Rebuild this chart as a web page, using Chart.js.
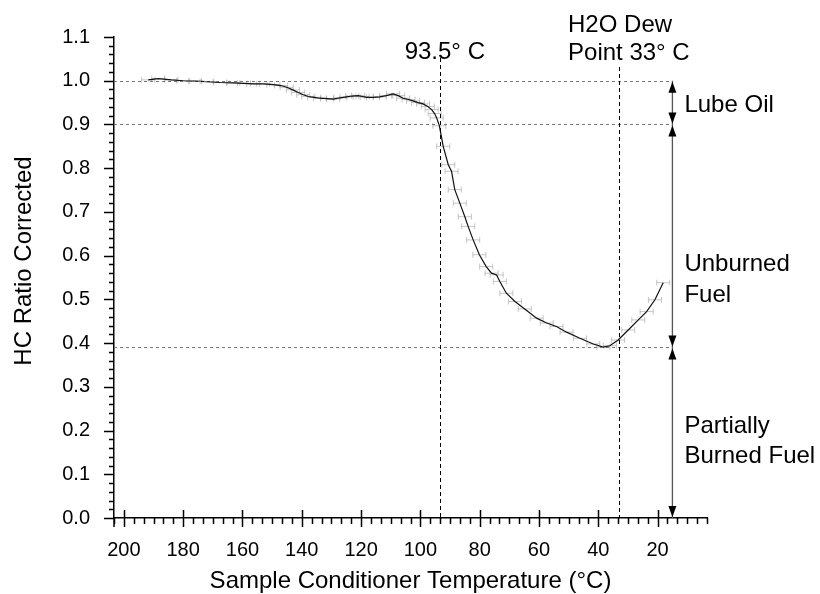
<!DOCTYPE html>
<html>
<head>
<meta charset="utf-8">
<script src="https://cdn.jsdelivr.net/npm/chart.js@4.4.1/dist/chart.umd.min.js"></script>
<style>
  html, body { margin: 0; padding: 0; background: #fff; }
  #wrap { width: 820px; height: 594px; }
</style>
</head>
<body>
<div id="wrap"><canvas id="hcChart" width="820" height="594"></canvas></div>
<script>
// Sample conditioner temperature (°C) and corrected HC ratio
const temps = [191.8, 188.4, 184, 180, 176, 172.1, 167.5, 163.1, 159.5, 156.4, 153, 149.6, 147, 145.1,
  143, 141.2, 139.5, 137.8, 135.8, 133.9, 131.5, 129.4, 127, 124.9, 123, 121, 119.5, 118.1, 116, 113.7,
  111.5, 109.2, 107.5, 105.8, 104, 102.5, 100.8, 99.1, 97.5, 96.2, 95.2, 94.5, 93.6, 92.3, 90.6, 89.5,
  88.4, 86.7, 85.0, 83.9, 82.2, 80.1, 77.8, 76.0, 74.3, 73.2, 71.0, 68.1, 64.8, 60.8, 57.4, 54.1, 50.7,
  46.2, 41.7, 38.3, 36.1, 33.3, 29.9, 26.5, 23.7, 20.9, 18.1];
const hcRatio = [1.002, 1.005, 1.002, 1.000, 0.999, 0.998, 0.996, 0.995, 0.994, 0.993, 0.993, 0.991, 0.989, 0.985,
  0.979, 0.973, 0.968, 0.964, 0.962, 0.960, 0.959, 0.958, 0.961, 0.963, 0.965, 0.966, 0.964, 0.962, 0.962, 0.963,
  0.966, 0.970, 0.966, 0.960, 0.957, 0.954, 0.950, 0.947, 0.941, 0.934, 0.925, 0.915, 0.897, 0.850, 0.808, 0.793,
  0.751, 0.720, 0.689, 0.667, 0.636, 0.602, 0.575, 0.560, 0.556, 0.541, 0.514, 0.495, 0.478, 0.457, 0.446, 0.438, 0.425,
  0.411, 0.398, 0.391, 0.394, 0.407, 0.430, 0.453, 0.472, 0.499, 0.538];
const tempError = 2.2; // ± °C on every reading

// Axis ranges and ticks
const xMin = 3.333, xMax = 203.333;
const xTickValues = [200, 180, 160, 140, 120, 100, 80, 60, 40, 20];
const xMinorPerMajor = 6;
const yMin = 0, yMax = 1.1;
const yTickValues = [0, 0.1, 0.2, 0.3, 0.4, 0.5, 0.6, 0.7, 0.8, 0.9, 1.0, 1.1];
const yMinorPerMajor = 5;

// Reference temperatures
const markerTemps = [93.5, 33];
const markerLabels = [['93.5° C'], ['H2O Dew', 'Point 33° C']];

// Composition bands on the right-hand scale
const bandEdges = [1.0, 0.9, 0.39, 0.0];
const bandLabels = [['Lube Oil'], ['Unburned', 'Fuel'], ['Partially', 'Burned Fuel']];
const bandArrowTemp = 15;

const FONT = "'Liberation Sans', Arial, sans-serif";

const points = temps.map((t, i) => ({ x: t, y: hcRatio[i] }));

// horizontal error bars under the curve
const errorBars = {
  id: 'errorBars',
  beforeDatasetsDraw(chart) {
    const { ctx, scales: { x, y } } = chart;
    ctx.save();
    ctx.strokeStyle = 'rgba(160,160,160,0.6)';
    ctx.lineWidth = 1;
    points.forEach(p => {
      const x1 = x.getPixelForValue(p.x + tempError);
      const x2 = x.getPixelForValue(p.x - tempError);
      const py = y.getPixelForValue(p.y);
      ctx.beginPath();
      ctx.moveTo(x1, py); ctx.lineTo(x2, py);
      ctx.moveTo(x1, py - 3); ctx.lineTo(x1, py + 3);
      ctx.moveTo(x2, py - 3); ctx.lineTo(x2, py + 3);
      ctx.stroke();
    });
    ctx.restore();
  }
};

// major / minor tick marks
const tickMarks = {
  id: 'tickMarks',
  afterDraw(chart) {
    const { ctx, scales: { x, y }, chartArea: a } = chart;
    const xStep = (xTickValues[0] - xTickValues[1]) / xMinorPerMajor;
    const yStep = (yTickValues[1] - yTickValues[0]) / yMinorPerMajor;
    ctx.save();
    ctx.strokeStyle = '#000';
    ctx.lineWidth = 1.5;
    ctx.beginPath();
    const nx = Math.round((xMax - xMin) / xStep);
    for (let k = 0; k <= nx; k++) {
      const v = xMin + k * xStep;
      const px = Math.round(x.getPixelForValue(v)) + 0.5;
      const major = xTickValues.some(t => Math.abs(t - v) < 0.01);
      ctx.moveTo(px, major ? a.bottom - 8 : a.bottom);
      ctx.lineTo(px, major ? a.bottom + 9 : a.bottom + 6);
    }
    const ny = Math.round((yMax - yMin) / yStep);
    for (let k = 0; k <= ny; k++) {
      const v = yMin + k * yStep;
      const py = Math.round(y.getPixelForValue(v)) + 0.5;
      const major = k % yMinorPerMajor === 0;
      ctx.moveTo(a.left, py);
      ctx.lineTo(major ? a.left - 10 : a.left - 5, py);
    }
    ctx.moveTo(a.left, a.bottom);
    ctx.lineTo(a.left, a.bottom + 9);
    ctx.stroke();
    ctx.restore();
  }
};

function arrowHead(ctx, px, py, dir) {
  ctx.beginPath();
  ctx.moveTo(px, py);
  ctx.lineTo(px - 4, py - dir * 11);
  ctx.lineTo(px + 4, py - dir * 11);
  ctx.closePath();
  ctx.fill();
}

// reference lines, band arrows and text
const annotations = {
  id: 'annotations',
  afterDraw(chart) {
    const { ctx, scales: { x, y }, chartArea: a } = chart;
    const ax = x.getPixelForValue(bandArrowTemp);
    ctx.save();

    // horizontal band edges
    ctx.strokeStyle = '#777';
    ctx.lineWidth = 1.2;
    ctx.setLineDash([3, 3]);
    bandEdges.slice(0, 3).forEach(v => {
      const py = Math.round(y.getPixelForValue(v)) + 0.5;
      ctx.beginPath();
      ctx.moveTo(a.left, py);
      ctx.lineTo(ax, py);
      ctx.stroke();
    });

    // vertical reference temperatures
    ctx.strokeStyle = '#000';
    ctx.lineWidth = 1;
    ctx.setLineDash([4, 3]);
    const lineTops = [58, 67];
    markerTemps.forEach((t, i) => {
      const px = Math.round(x.getPixelForValue(t)) + 0.5;
      ctx.beginPath();
      ctx.moveTo(px, lineTops[i]);
      ctx.lineTo(px, a.bottom);
      ctx.stroke();
    });
    ctx.setLineDash([]);

    // band arrows
    ctx.strokeStyle = '#555';
    ctx.lineWidth = 1.3;
    ctx.beginPath();
    ctx.moveTo(ax, y.getPixelForValue(bandEdges[0]));
    ctx.lineTo(ax, y.getPixelForValue(bandEdges[3]));
    ctx.stroke();
    ctx.fillStyle = '#000';
    for (let i = 0; i < bandEdges.length - 1; i++) {
      const top = y.getPixelForValue(bandEdges[i]);
      const bot = y.getPixelForValue(bandEdges[i + 1]);
      arrowHead(ctx, ax, top + 1, -1);
      arrowHead(ctx, ax, bot - 1, 1);
    }

    // text
    ctx.fillStyle = '#000';
    ctx.font = '24px ' + FONT;
    ctx.textBaseline = 'alphabetic';
    ctx.textAlign = 'left';
    const mk0 = x.getPixelForValue(markerTemps[0]);
    const mk1 = x.getPixelForValue(markerTemps[1]);
    ctx.fillText(markerLabels[0][0], mk0 - 35, 59);
    ctx.fillText(markerLabels[1][0], mk1 - 51, 32);
    ctx.fillText(markerLabels[1][1], mk1 - 51, 60);

    const bandBaselines = [[112], [271, 302], [433, 463]];
    bandLabels.forEach((lines, i) => {
      lines.forEach((s, j) => ctx.fillText(s, ax + 12, bandBaselines[i][j]));
    });

    // axis titles
    ctx.textAlign = 'center';
    ctx.fillText('Sample Conditioner Temperature (°C)', (a.left + a.right) / 2, 588);
    ctx.translate(31, 261);
    ctx.rotate(-Math.PI / 2);
    ctx.fillText('HC Ratio Corrected', 0, 0);
    ctx.restore();
  }
};

new Chart(document.getElementById('hcChart'), {
  type: 'line',
  data: {
    datasets: [{
      data: points,
      borderColor: '#111',
      borderWidth: 1.2,
      pointRadius: 0,
      tension: 0,
      fill: false
    }]
  },
  options: {
    responsive: false,
    animation: false,
    layout: { padding: { left: 0, right: 113, top: 37, bottom: 0 } },
    plugins: { legend: { display: false }, tooltip: { enabled: false } },
    scales: {
      x: {
        type: 'linear',
        reverse: true,
        min: xMin,
        max: xMax,
        afterFit(scale) { scale.height = 76; },
        afterBuildTicks(scale) { scale.ticks = xTickValues.map(v => ({ value: v })); },
        grid: { display: false },
        border: { color: '#000', width: 1.5 },
        ticks: {
          padding: 12,
          maxRotation: 0,
          autoSkip: false,
          color: '#000',
          font: { family: FONT, size: 20 },
          callback: v => String(v)
        }
      },
      y: {
        min: yMin,
        max: yMax,
        afterFit(scale) { scale.width = 114; },
        afterBuildTicks(scale) { scale.ticks = yTickValues.map(v => ({ value: v })); },
        grid: { display: false },
        border: { color: '#000', width: 1.5 },
        ticks: {
          padding: 16,
          autoSkip: false,
          color: '#000',
          font: { family: FONT, size: 20 },
          callback: v => v.toFixed(1)
        }
      }
    }
  },
  plugins: [errorBars, tickMarks, annotations]
});
</script>
</body>
</html>
